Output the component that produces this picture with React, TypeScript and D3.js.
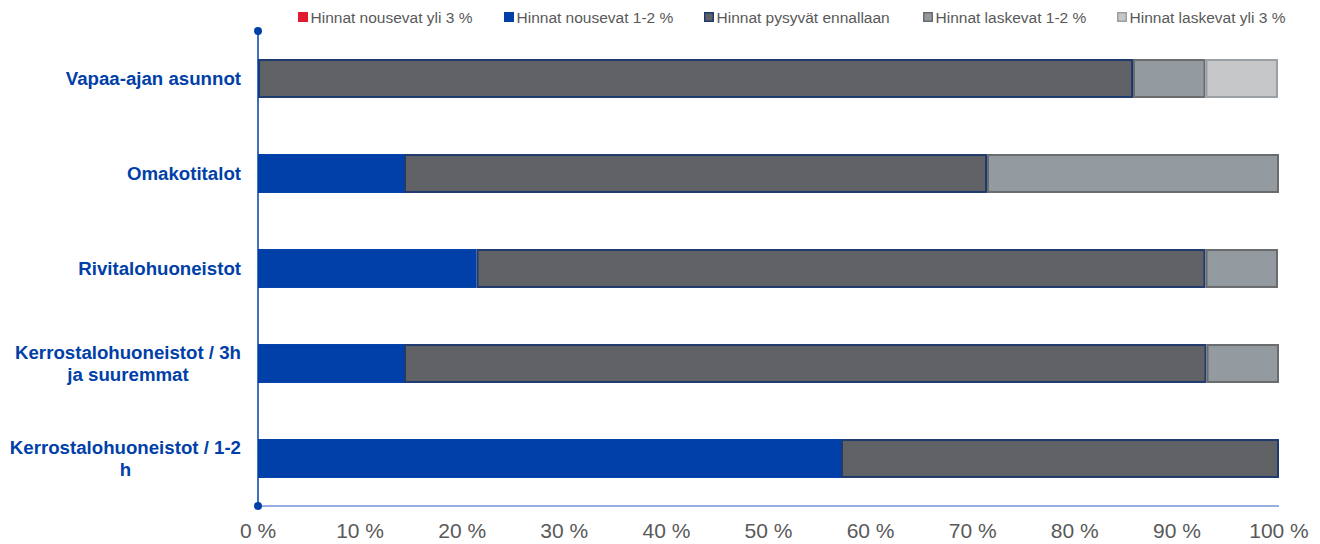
import React, { useEffect, useRef } from "react";
import * as d3 from "d3";

const categories = [
  "Vapaa-ajan asunnot",
  "Omakotitalot",
  "Rivitalohuoneistot",
  "Kerrostalohuoneistot / 3h ja suuremmat",
  "Kerrostalohuoneistot / 1-2 h",
];
const categoryLines = [
  ["Vapaa-ajan asunnot"],
  ["Omakotitalot"],
  ["Rivitalohuoneistot"],
  ["Kerrostalohuoneistot / 3h", "ja suuremmat"],
  ["Kerrostalohuoneistot / 1-2", "h"],
];

const seriesNames = [
  "Hinnat nousevat yli 3 %",
  "Hinnat nousevat 1-2 %",
  "Hinnat pysyvät ennallaan",
  "Hinnat laskevat 1-2 %",
  "Hinnat laskevat yli 3 %",
];
const nousevatYli3 = [0, 0, 0, 0, 0];
const nousevat12 = [0, 14.3, 21.4, 14.3, 57.1];
const pysyvat = [85.7, 57.1, 71.4, 78.6, 42.9];
const laskevat12 = [7.1, 28.6, 7.1, 7.1, 0];
const laskevatYli3 = [7.1, 0, 0, 0, 0];

const tickValues = [0, 10, 20, 30, 40, 50, 60, 70, 80, 90, 100];

const fills = ["#E31B2F", "#0040A8", "#616266", "#939AA0", "#C6C7C9"];
const strokes = ["#E31B2F", "#0040A8", "#1F3A6E", "#6A6B6D", "#9A9FA4"];
const legendX = [298, 504, 704, 923, 1117];

export default function App() {
  const ref = useRef<SVGSVGElement | null>(null);

  useEffect(() => {
    const svg = d3.select(ref.current);
    svg.selectAll("*").remove();
    const font = "'Liberation Sans', Arial, sans-serif";

    const x = d3.scaleLinear().domain([0, 100]).range([258, 1279]);
    const y = d3.scaleBand<string>().domain(categories).range([31, 506]).paddingInner(0.59).paddingOuter(0.295);

    const allSeries = [nousevatYli3, nousevat12, pysyvat, laskevat12, laskevatYli3];

    // bars
    categories.forEach((cat, i) => {
      let acc = 0;
      allSeries.forEach((s, si) => {
        const v = s[i];
        if (v > 0) {
          svg
            .append("rect")
            .attr("x", x(acc) + 1)
            .attr("y", (y(cat) as number) + 1)
            .attr("width", x(acc + v) - x(acc) - 2)
            .attr("height", y.bandwidth() - 2)
            .attr("fill", fills[si])
            .attr("stroke", strokes[si])
            .attr("stroke-width", 2);
        }
        acc += v;
      });
    });

    // axes
    svg
      .append("line")
      .attr("x1", x(0))
      .attr("x2", x(100))
      .attr("y1", 506)
      .attr("y2", 506)
      .attr("stroke", "#2F5DC0")
      .attr("stroke-width", 1);
    svg
      .append("line")
      .attr("x1", x(0))
      .attr("x2", x(0))
      .attr("y1", 31)
      .attr("y2", 506)
      .attr("stroke", "#0040A8")
      .attr("stroke-width", 1.5);
    [31, 506].forEach((cy) =>
      svg.append("circle").attr("cx", x(0)).attr("cy", cy).attr("r", 4).attr("fill", "#0040A8")
    );

    // tick labels
    svg
      .selectAll("text.tick")
      .data(tickValues)
      .enter()
      .append("text")
      .attr("class", "tick")
      .attr("x", (d) => x(d))
      .attr("y", 538)
      .attr("text-anchor", "middle")
      .attr("font-family", font)
      .attr("font-size", 21)
      .attr("fill", "#595959")
      .text((d) => `${d} %`);

    // category labels
    categories.forEach((cat, i) => {
      const lines = categoryLines[i];
      const cy = (y(cat) as number) + y.bandwidth() / 2;
      const lh = 22;
      const g = svg.append("g");
      const t = g
        .append("text")
        .attr("font-family", font)
        .attr("font-size", 18.67)
        .attr("font-weight", "bold")
        .attr("fill", "#0040A8")
        .attr("text-anchor", "middle");
      const firstBaseline = cy + 6.7 - ((lines.length - 1) * lh) / 2;
      lines.forEach((ln, li) => {
        t.append("tspan").attr("x", 0).attr("y", firstBaseline + li * lh).text(ln);
      });
      const bb = (t.node() as SVGTextElement).getBBox();
      g.attr("transform", `translate(${241 - (bb.x + bb.width)},0)`);
    });

    // legend
    seriesNames.forEach((name, i) => {
      svg
        .append("rect")
        .attr("x", legendX[i] + 0.75)
        .attr("y", 12.75)
        .attr("width", 8.5)
        .attr("height", 8.5)
        .attr("fill", fills[i])
        .attr("stroke", strokes[i])
        .attr("stroke-width", 1.5);
      svg
        .append("text")
        .attr("x", legendX[i] + 12.5)
        .attr("y", 22.5)
        .attr("font-family", font)
        .attr("font-size", 15.5)
        .attr("fill", "#595959")
        .text(name);
    });
  }, []);

  return (
    <svg
      ref={ref}
      width={1320}
      height={544}
      style={{ position: "absolute", left: 0, top: 0, background: "#fff" }}
    />
  );
}
